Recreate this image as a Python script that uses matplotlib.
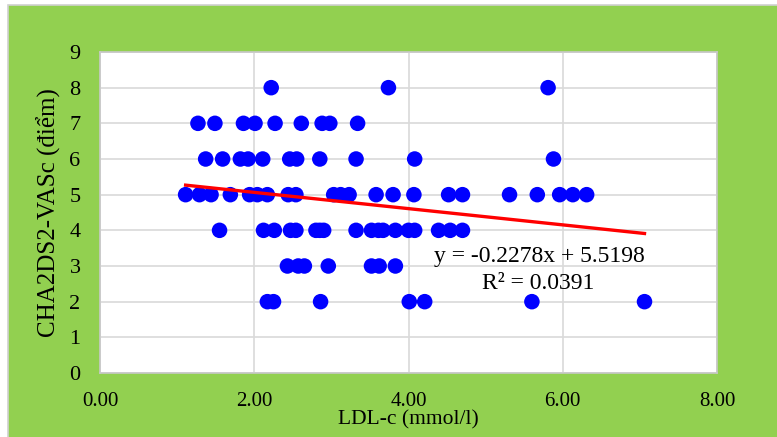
import matplotlib
matplotlib.use('Agg')
import matplotlib.pyplot as plt
from matplotlib.patches import Rectangle

# LDL-c values (mmol/l) grouped by CHA2DS2-VASc score
ldl_score_8 = [2.22, 3.74, 5.81]
ldl_score_7 = [1.27, 1.49, 1.86, 2.01, 2.27, 2.61, 2.88, 2.98, 3.34]
ldl_score_6 = [1.37, 1.59, 1.82, 1.92, 2.11, 2.46, 2.55, 2.85, 3.32, 4.08, 5.88]
ldl_score_5 = [1.11, 1.29, 1.44, 1.69, 1.94, 2.04, 2.17, 2.44, 2.54, 3.03, 3.12,
               3.23, 3.58, 3.80, 4.07, 4.52, 4.70, 5.31, 5.67, 5.96, 6.13, 6.31]
ldl_score_4 = [1.55, 2.12, 2.26, 2.47, 2.54, 2.80, 2.85, 2.90, 3.32, 3.52, 3.61,
               3.67, 3.83, 4.00, 4.08, 4.39, 4.54, 4.70]
ldl_score_3 = [2.43, 2.57, 2.65, 2.96, 3.52, 3.62, 3.83]
ldl_score_2 = [2.17, 2.25, 2.86, 4.01, 4.21, 5.60, 7.06]

# trend line shown on the chart
slope = -0.2278
intercept = 5.5198
r_squared = 0.0391

x_ticks = [0, 2, 4, 6, 8]
y_ticks = [0, 1, 2, 3, 4, 5, 6, 7, 8, 9]

groups = [(8, ldl_score_8), (7, ldl_score_7), (6, ldl_score_6), (5, ldl_score_5),
          (4, ldl_score_4), (3, ldl_score_3), (2, ldl_score_2)]
ldl = []
score = []
for s, vals in groups:
    for v in vals:
        ldl.append(v)
        score.append(s)

plt.rcParams['font.family'] = ['Liberation Serif', 'DejaVu Serif']

W, H = 777, 437
fig = plt.figure(figsize=(W / 100, H / 100), dpi=100)
fig.patch.set_facecolor('white')

# green chart area with light grey frame
fig.patches.append(Rectangle((7.5 / W, -0.05), 1.1, (H - 5) / H + 0.05,
                             transform=fig.transFigure, facecolor='#92D050',
                             edgecolor='#D0D0D0', linewidth=1.2, zorder=-5))

ax = fig.add_axes([100 / W, (H - 373) / H, (717 - 100) / W, (373 - 52) / H])
ax.set_zorder(1)
ax.set_facecolor('white')
for sp in ax.spines.values():
    sp.set_color('#C8C8C8')
    sp.set_linewidth(1.2)

ax.scatter(ldl, score, s=125, color='#0000FF', edgecolors='none', zorder=3)

x_line = [min(ldl), max(ldl)]
y_line = [slope * x + intercept for x in x_line]
ax.plot(x_line, y_line, color='#FF0000', linewidth=2.4, zorder=4)

ax.set_xlim(0, 8)
ax.set_ylim(0, 9)
ax.set_xticks(x_ticks)
ax.set_xticklabels(['%.2f' % t for t in x_ticks])
ax.set_yticks(y_ticks)
ax.grid(True, color='#D9D9D9', linewidth=1.2, zorder=0)
ax.set_axisbelow(True)
ax.tick_params(axis='y', length=0, labelsize=16, pad=14)
ax.tick_params(axis='x', length=0, labelsize=15, pad=14)

ax.set_xlabel('LDL-c (mmol/l)', fontsize=15.5, labelpad=-1)
ax.set_ylabel('CHA2DS2-VASc (điểm)', fontsize=18, labelpad=6)

eq = 'y = %.4fx + %.4f' % (slope, intercept)
ax.text(5.7, 3.28, eq, fontsize=17, ha='center', va='center', zorder=5)
ax.text(5.68, 2.52, 'R² = %.4f' % r_squared, fontsize=17, ha='center', va='center', zorder=5)

fig.savefig('out.png', dpi=100)
